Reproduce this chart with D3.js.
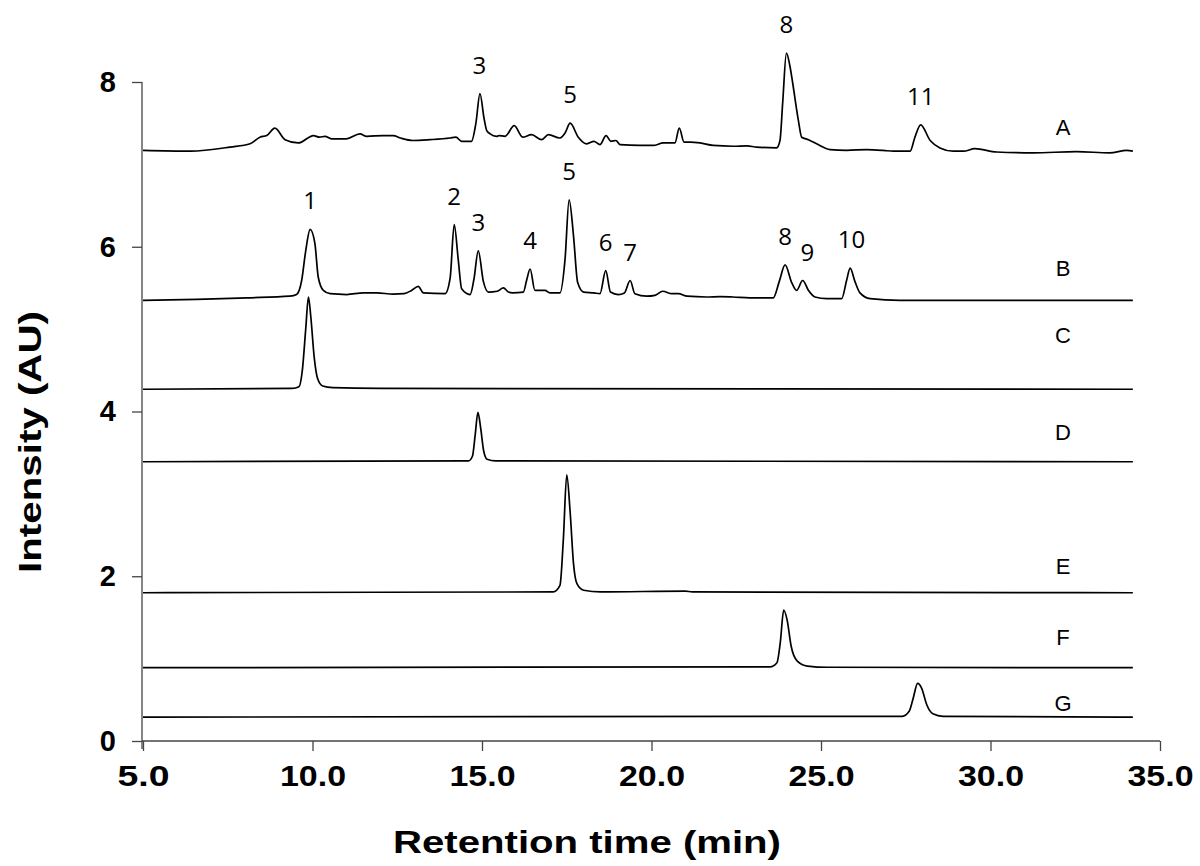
<!DOCTYPE html>
<html>
<head>
<meta charset="utf-8">
<script src="https://cdn.jsdelivr.net/npm/d3@7"></script>
<style>
  html, body { margin: 0; padding: 0; background: #fff; }
  svg { display: block; }
</style>
</head>
<body>
<svg id="chart" width="1200" height="866"></svg>
<script>
// Stacked HPLC chromatograms: each trace is [retention time (min), intensity (AU)]
const traceNames = ["A", "B", "C", "D", "E", "F", "G"];

const traceA = [
  [5.0, 7.17], [6.4, 7.16], [7.57, 7.21], [8.16, 7.25], [8.45, 7.33], [8.65, 7.35],
  [8.89, 7.44], [9.19, 7.30], [9.58, 7.26], [10.03, 7.35], [10.2, 7.33], [10.37, 7.34],
  [10.56, 7.31], [11.0, 7.31], [11.4, 7.37], [11.6, 7.34], [12.09, 7.35], [12.38, 7.35],
  [12.6, 7.32], [12.97, 7.29], [13.47, 7.30], [14.06, 7.32], [14.23, 7.33], [14.4, 7.28],
  [14.69, 7.28], [14.82, 7.50], [14.94, 7.86], [15.06, 7.56], [15.14, 7.41], [15.24, 7.37],
  [15.43, 7.34], [15.5, 7.35], [15.68, 7.34], [15.95, 7.47], [16.2, 7.33], [16.46, 7.36],
  [16.76, 7.30], [16.96, 7.36], [17.3, 7.32], [17.45, 7.38], [17.6, 7.50], [17.84, 7.33],
  [18.09, 7.25], [18.3, 7.28], [18.48, 7.24], [18.66, 7.35], [18.8, 7.28], [18.95, 7.29],
  [19.07, 7.24], [19.66, 7.23], [20.05, 7.23], [20.35, 7.26], [20.69, 7.26], [20.82, 7.44],
  [20.96, 7.27], [21.14, 7.27], [21.43, 7.26], [21.82, 7.23], [22.41, 7.22], [22.81, 7.225],
  [23.1, 7.21], [23.69, 7.20], [23.79, 7.29], [23.87, 7.75], [23.98, 8.35], [24.08, 8.20],
  [24.16, 8.00], [24.33, 7.54], [24.43, 7.33], [24.63, 7.30], [24.87, 7.25], [25.27, 7.18],
  [25.76, 7.17], [26.35, 7.18], [26.84, 7.17], [27.13, 7.16], [27.63, 7.16], [27.77, 7.33],
  [27.94, 7.48], [28.22, 7.29], [28.51, 7.20], [28.9, 7.16], [29.2, 7.16], [29.54, 7.19],
  [30.18, 7.15], [31.26, 7.14], [32.54, 7.155], [33.52, 7.14], [34.02, 7.17], [34.2, 7.16]
];

const traceB = [
  [5.0, 5.35], [6.58, 5.36], [8.06, 5.38], [9.33, 5.40], [9.53, 5.42], [9.68, 5.59],
  [9.8, 5.95], [9.93, 6.21], [10.07, 6.04], [10.17, 5.63], [10.32, 5.47], [10.52, 5.43],
  [11.01, 5.42], [11.5, 5.44], [11.9, 5.44], [12.38, 5.425], [12.7, 5.43], [12.92, 5.47],
  [13.12, 5.52], [13.27, 5.44], [13.91, 5.43], [14.06, 5.62], [14.18, 6.27], [14.3, 5.84],
  [14.4, 5.49], [14.65, 5.42], [14.76, 5.60], [14.89, 5.95], [15.04, 5.58], [15.19, 5.45],
  [15.45, 5.46], [15.63, 5.50], [15.78, 5.45], [15.9, 5.44], [16.22, 5.45], [16.32, 5.60],
  [16.42, 5.73], [16.56, 5.47], [16.86, 5.47], [17.0, 5.44], [17.3, 5.44], [17.45, 5.85],
  [17.57, 6.57], [17.7, 6.13], [17.82, 5.57], [18.0, 5.45], [18.3, 5.44], [18.48, 5.43],
  [18.65, 5.71], [18.79, 5.45], [19.02, 5.42], [19.2, 5.44], [19.37, 5.59], [19.51, 5.43],
  [19.86, 5.40], [20.1, 5.41], [20.33, 5.46], [20.6, 5.43], [20.79, 5.43], [21.05, 5.40],
  [21.62, 5.39], [22.02, 5.395], [22.41, 5.39], [22.9, 5.38], [23.59, 5.38], [23.77, 5.58],
  [23.94, 5.78], [24.14, 5.56], [24.28, 5.47], [24.46, 5.59], [24.63, 5.47], [24.82, 5.39],
  [25.17, 5.37], [25.61, 5.37], [25.76, 5.60], [25.86, 5.74], [26.0, 5.58], [26.15, 5.44],
  [26.45, 5.37], [27.33, 5.35], [34.2, 5.35]
];

const traceC = [
  [5.0, 4.27], [9.4, 4.28], [9.6, 4.30], [9.7, 4.50], [9.8, 5.00], [9.88, 5.39],
  [9.95, 5.15], [10.05, 4.66], [10.15, 4.40], [10.3, 4.31], [10.6, 4.29], [12.0, 4.28],
  [34.2, 4.27]
];

const traceD = [
  [5.0, 3.39], [14.6, 3.40], [14.72, 3.46], [14.8, 3.72], [14.88, 3.99], [14.96, 3.80],
  [15.05, 3.52], [15.15, 3.42], [15.4, 3.40], [34.2, 3.39]
];

const traceE = [
  [5.0, 1.80], [17.1, 1.81], [17.3, 1.89], [17.4, 2.45], [17.5, 3.23], [17.6, 2.78],
  [17.7, 2.15], [17.8, 1.91], [18.0, 1.83], [18.5, 1.81], [21.0, 1.82], [21.2, 1.81],
  [34.2, 1.80]
];

const traceF = [
  [5.0, 0.89], [23.5, 0.90], [23.7, 0.95], [23.8, 1.20], [23.9, 1.59], [24.0, 1.47],
  [24.12, 1.15], [24.3, 0.97], [24.6, 0.91], [25.2, 0.895], [34.2, 0.89]
];

const traceG = [
  [5.0, 0.29], [27.4, 0.30], [27.6, 0.36], [27.72, 0.52], [27.85, 0.70], [27.97, 0.64],
  [28.12, 0.44], [28.3, 0.33], [28.6, 0.30], [34.2, 0.29]
];

// Peak numbers drawn above their peaks: [retention time, label]
const peakLabelsA = [[14.92, "3"], [17.6, "5"], [23.98, "8"], [27.94, "11"]];
const peakLabelsB = [[9.93, "1"], [14.18, "2"], [14.89, "3"], [16.42, "4"], [17.57, "5"],
                     [18.65, "6"], [19.37, "7"], [23.94, "8"], [24.6, "9"], [25.9, "10"]];

const xTicks = [5, 10, 15, 20, 25, 30, 35];
const yTicks = [0, 2, 4, 6, 8];

const traces = [traceA, traceB, traceC, traceD, traceE, traceF, traceG];

// layout of the trace letters: time position and lift above each trace's tail (px)
const traceLabelTime = 32.14;
const traceLabelLift = [16, 24, 46, 22, 19, 23, 6];

const svg = d3.select("#chart");
const x = d3.scaleLinear().domain([5, 35]).range([143, 1160]);
const y = d3.scaleLinear().domain([0, 8]).range([741, 82]);

// axes
const axisColor = "#444";
const tickFont = "'Liberation Sans', Arial, sans-serif";
const xAxis = svg.append("g").attr("transform", `translate(0,${y(0)})`)
  .call(d3.axisBottom(x).tickValues(xTicks).tickFormat(d3.format(".1f")).tickSize(10).tickPadding(14));
const yAxis = svg.append("g").attr("transform", `translate(${x(5) - 1},0)`)
  .call(d3.axisLeft(y).tickValues(yTicks).tickFormat(d3.format("d")).tickSize(10).tickPadding(16));

[xAxis, yAxis].forEach(g => {
  g.select(".domain").attr("stroke", axisColor).attr("stroke-width", 1.3);
  g.selectAll(".tick line").attr("stroke", axisColor).attr("stroke-width", 1.3);
  g.selectAll(".tick text")
    .attr("fill", "#000")
    .style("font-family", tickFont)
    .style("font-weight", "bold")
    .style("font-size", "29px");
});
// the tick digits are drawn a little wider than the plain face
xAxis.selectAll(".tick text").attr("textLength", 66).attr("lengthAdjust", "spacingAndGlyphs");
xAxis.selectAll(".tick text").filter(d => d < 10).attr("textLength", 52);
xAxis.select(".domain").attr("d", `M${x(5) - 1},0H${x(35)}`);
yAxis.select(".domain").attr("d", `M0,${y(0) + 8}V${y(8)}`);

// chromatogram traces
const line = d3.line()
  .x(d => x(d[0]))
  .y(d => y(d[1]))
  .curve(d3.curveMonotoneX);

svg.append("g").selectAll("path")
  .data(traces)
  .join("path")
  .attr("d", line)
  .attr("fill", "none")
  .attr("stroke", "#000")
  .attr("stroke-width", 1.7)
  .attr("stroke-linejoin", "round");

// trace letters on the right
const labelFont = "'Liberation Sans', Arial, sans-serif";
svg.append("g").selectAll("text")
  .data(traces)
  .join("text")
  .attr("x", x(traceLabelTime))
  .attr("y", (d, i) => y(d[d.length - 1][1]) - traceLabelLift[i])
  .attr("text-anchor", "middle")
  .style("font-family", labelFont)
  .style("font-size", "22px")
  .text((d, i) => traceNames[i]);

// peak numbers
function peakTop(trace, t) {
  let best = trace[0];
  trace.forEach(p => { if (Math.abs(p[0] - t) < 0.2 && p[1] > best[1]) best = p; });
  return best;
}
const numFont = "'Open Sans', 'Noto Sans', sans-serif";
[[traceA, peakLabelsA], [traceB, peakLabelsB]].forEach(([tr, labels]) => {
  svg.append("g").selectAll("text")
    .data(labels)
    .join("text")
    .attr("x", d => x(d[0]))
    .attr("y", d => y(peakTop(tr, d[0])[1]) - 20)
    .attr("text-anchor", "middle")
    .style("font-family", numFont)
    .style("font-size", "24px")
    .text(d => d[1]);
});

// axis titles
svg.append("text")
  .attr("x", 587).attr("y", 853)
  .attr("text-anchor", "middle")
  .attr("textLength", 388)
  .attr("lengthAdjust", "spacingAndGlyphs")
  .style("font-family", labelFont)
  .style("font-weight", "bold")
  .style("font-size", "31px")
  .text("Retention time (min)");

svg.append("text")
  .attr("transform", `translate(41,442) rotate(-90)`)
  .attr("text-anchor", "middle")
  .attr("textLength", 262)
  .attr("lengthAdjust", "spacingAndGlyphs")
  .style("font-family", labelFont)
  .style("font-weight", "bold")
  .style("font-size", "31px")
  .text("Intensity (AU)");
</script>
</body>
</html>
